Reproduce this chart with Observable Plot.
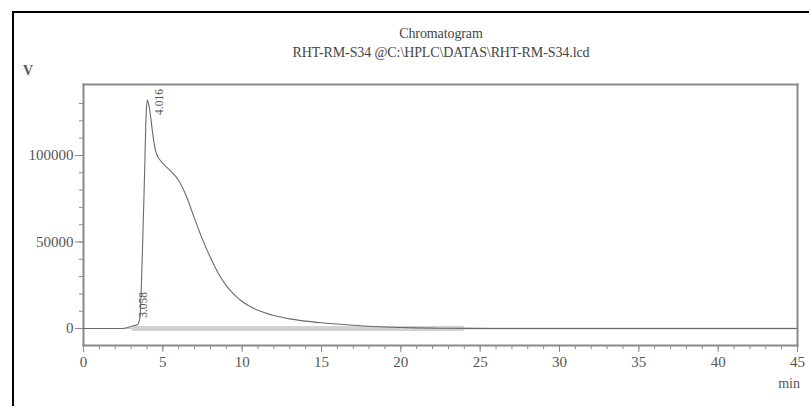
<!DOCTYPE html>
<html>
<head>
<meta charset="utf-8">
<script src="https://cdn.jsdelivr.net/npm/d3@7"></script>
<script src="https://cdn.jsdelivr.net/npm/@observablehq/plot@0.6"></script>
<style>
  html, body { margin: 0; padding: 0; background: #fff; }
  #wrap { position: relative; width: 809px; height: 406px; overflow: hidden; font-family: "Liberation Serif", "DejaVu Serif", serif; }
  #wrap svg { position: absolute; left: 0; top: 0; }
  .frameTop { position: absolute; left: 12px; top: 11px; width: 800px; height: 2px; background: #000; }
  .frameLeft { position: absolute; left: 12px; top: 11px; width: 2px; height: 400px; background: #000; }
  .ttl { position: absolute; left: 240px; width: 402px; text-align: center; color: #444; font-size: 14px; white-space: nowrap; letter-spacing: -0.1px; }
  .vlab { position: absolute; left: 23px; top: 63px; font-size: 14px; font-weight: bold; color: #555; }
  .xunit { position: absolute; right: 9px; top: 376px; font-size: 14px; color: #555; }
</style>
</head>
<body>
<div id="wrap">
  <div class="frameTop"></div>
  <div class="frameLeft"></div>
  <div class="ttl" id="title" style="top:26px"></div>
  <div class="ttl" id="subtitle" style="top:45px"></div>
  <div class="vlab" id="ylab"></div>
  <div class="xunit" id="xlab"></div>
</div>
<script>
const titleText = "Chromatogram";
const subtitleText = "RHT-RM-S34 @C:\\HPLC\\DATAS\\RHT-RM-S34.lcd";
const yUnit = "V";
const xUnit = "min";

// retention time (min) and detector signal
const time = [0, 2.4, 2.8, 3.0, 3.2, 3.4, 3.55, 3.7, 3.85, 3.95, 4.016, 4.1, 4.25, 4.4, 4.6, 5.0, 5.5, 6.0, 6.5, 7.0, 7.5, 8.0, 8.5, 9.0, 9.5, 10, 10.5, 11, 12, 13, 14, 15, 16, 17, 18, 19, 20, 21, 22, 24, 26, 30, 35, 40, 45];
const signal = [0, 0, 600, 1200, 1700, 2300, 6000, 40000, 90000, 124000, 132000, 130000, 121000, 110000, 101000, 95500, 91000, 85500, 76000, 63500, 51500, 41000, 31800, 24800, 19600, 15600, 12700, 10500, 7500, 5600, 4300, 3350, 2600, 1900, 1300, 900, 600, 400, 250, 100, 0, 0, 0, 0, 0];

const peakTimes = [3.058, 4.016];
const peakSignals = [1600, 132000];
const peakLabels = ["3.058", "4.016"];

const baselineTimes = [3.058, 24];
const baselineTailTimes = [24, 45];

const xMajorTicks = [0, 5, 10, 15, 20, 25, 30, 35, 40, 45];
const xMinorTicks = d3.range(0, 46, 1);
const yMajorTicks = [0, 50000, 100000];
const yMinorTicks = [0, 10000, 20000, 30000, 40000, 50000, 60000, 70000, 80000, 90000, 100000, 110000, 120000, 130000];

document.getElementById("title").textContent = titleText;
document.getElementById("subtitle").textContent = subtitleText;
document.getElementById("ylab").textContent = yUnit;
document.getElementById("xlab").textContent = xUnit;

const curve = time.map((t, i) => ({t, v: signal[i]}));
const peaks = peakTimes.map((t, i) => ({t, v: peakSignals[i], label: peakLabels[i]}));

const axisColor = "#8a8a8a";
const font = "Liberation Serif";

const chart = Plot.plot({
  width: 809,
  height: 406,
  marginLeft: 83,
  marginRight: 12,
  marginTop: 84,
  marginBottom: 61,
  style: {fontFamily: font, fontSize: "15px", color: "#444", background: "transparent"},
  x: {domain: [0, 45], label: null},
  y: {domain: [-9800, 141000], label: null},
  marks: [
    Plot.frame({anchor: "top", stroke: axisColor, strokeWidth: 2}),
    Plot.frame({anchor: "right", stroke: axisColor, strokeWidth: 2}),
    Plot.frame({anchor: "left", stroke: axisColor, strokeWidth: 2}),
    Plot.frame({anchor: "bottom", stroke: axisColor, strokeWidth: 2}),
    // baseline at zero
    Plot.ruleY([0], {stroke: "#c4c4c4", strokeWidth: 1}),
    Plot.ruleY([0], {x1: baselineTimes[0], x2: baselineTimes[1], stroke: "#d2d2d2", strokeWidth: 5}),
    Plot.ruleY([0], {x1: baselineTailTimes[0], x2: baselineTailTimes[1], stroke: "#d8d8d8", strokeWidth: 2}),
    // chromatogram
    Plot.line(curve, {x: "t", y: "v", stroke: "#6a6a6a", strokeWidth: 1.1, curve: "monotone-x"}),
    // peak labels
    Plot.text(peaks.slice(1), {x: "t", y: "v", text: "label", rotate: -90, textAnchor: "end", dx: 12, dy: -11, fontSize: 11.5, fill: "#555"}),
    Plot.text(peaks.slice(0, 1), {x: "t", y: "v", text: "label", rotate: -90, textAnchor: "start", dx: 11, dy: -8, fontSize: 11.5, fill: "#555"}),
    // axes
    Plot.axisX({ticks: xMinorTicks, tickSize: 4, text: null, stroke: axisColor}),
    Plot.axisX({ticks: xMajorTicks, tickSize: 7, tickPadding: 4, stroke: axisColor, fill: "#555", fontSize: 15, label: null}),
    Plot.axisY({ticks: yMinorTicks, tickSize: 4, text: null, stroke: axisColor}),
    Plot.axisY({ticks: yMajorTicks, tickSize: 8, tickPadding: 2, tickFormat: d => String(d), stroke: axisColor, fill: "#555", fontSize: 15, label: null})
  ]
});
document.getElementById("wrap").appendChild(chart);
</script>
</body>
</html>
